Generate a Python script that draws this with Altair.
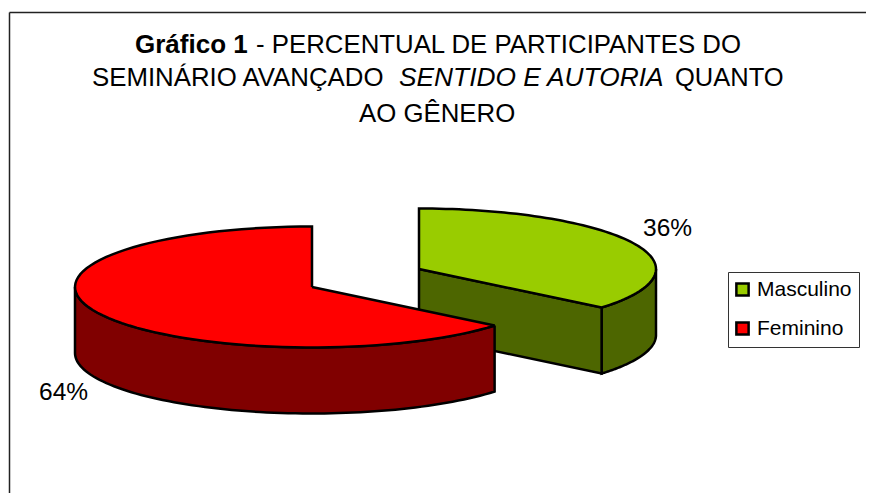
import math
import altair as alt
import pandas as pd

# ---- values ----
categories = ["Masculino", "Feminino"]
shares = [36, 64]
labels = ["36%", "64%"]
top_colors = ["#99CC00", "#FF0000"]
side_colors = ["#4D6600", "#800000"]
title_runs = [
    ("Gráfico 1", 135, 52.5, "bold", "normal", 26),
    ("- PERCENTUAL DE PARTICIPANTES DO", 256, 52.5, "normal", "normal", 25.8),
    ("SEMINÁRIO AVANÇADO", 92, 86, "normal", "normal", 25.8),
    ("SENTIDO E AUTORIA", 399, 86, "normal", "italic", 26.3),
    ("QUANTO", 675, 86, "normal", "normal", 25.5),
    ("AO GÊNERO", 359, 121.5, "normal", "normal", 25.8),
]

# pie geometry, in page pixels
FONT = "Liberation Sans"
RX, RY, DEPTH = 237, 60.5, 66
CENTERS = {"Masculino": (419, 269), "Feminino": (312, 287)}
split = shares[0] / sum(shares) * 360


def pt(cat, deg, drop=0):
    cx, cy = CENTERS[cat]
    a = math.radians(deg)
    return (cx + RX * math.sin(a), cy - RY * math.cos(a) + drop)


def arc(cat, a0, a1, drop=0, n=80):
    return [pt(cat, a0 + (a1 - a0) * i / n, drop) for i in range(n + 1)]


def frame(points):
    return pd.DataFrame(
        [{"x": x, "y": y, "i": i} for i, (x, y) in enumerate(points)]
    )


X = alt.X("x:Q", axis=None, scale=alt.Scale(domain=[8, 866], nice=False, zero=False))
Y = alt.Y("y:Q", axis=None, scale=alt.Scale(domain=[493, 8], nice=False, zero=False))
color_scale = alt.Scale(domain=categories, range=top_colors)
legend = alt.Legend(
    title=None,
    orient="none",
    legendX=720,
    legendY=264,
    direction="vertical",
    symbolType="square",
    symbolSize=150,
    symbolStrokeColor="black",
    symbolStrokeWidth=2.5,
    symbolOpacity=1,
    symbolOffset=-3,
    labelFont=FONT,
    labelFontSize=21,
    labelColor="black",
    labelOffset=4,
    padding=7,
    fillColor="white",
    strokeColor="#333333",
)


def poly(points, color):
    return (
        alt.Chart(frame(points))
        .mark_line(stroke="black", strokeWidth=2.5, fill=color, strokeJoin="miter")
        .encode(x=X, y=Y, order="i:Q")
    )


def top(cat, points):
    df = frame(points).assign(cat=cat)
    return (
        alt.Chart(df)
        .mark_line(stroke="black", strokeWidth=2.5, strokeJoin="miter")
        .encode(
            x=X,
            y=Y,
            order="i:Q",
            fill=alt.Fill("cat:N", scale=color_scale, legend=legend),
        )
    )


def run(text, x, y, weight, style, size=26):
    df = pd.DataFrame([{"x": x, "y": y, "t": text}])
    return (
        alt.Chart(df)
        .mark_text(
            font=FONT,
            fontSize=size,
            fontWeight=weight,
            fontStyle=style,
            align="left",
            baseline="alphabetic",
            color="black",
        )
        .encode(x=X, y=Y, text="t:N")
    )


m, f = categories
mc, fc = CENTERS[m], CENTERS[f]

layers = []
# outer frame
layers.append(
    alt.Chart(pd.DataFrame([{"x": 9.5, "y": 12.5}, {"x": 866, "y": 12.5}]))
    .mark_line(stroke="#222222", strokeWidth=1.5)
    .encode(x=X, y=Y)
)
layers.append(
    alt.Chart(pd.DataFrame([{"x": 9.5, "y": 12.5}, {"x": 9.5, "y": 493}]))
    .mark_line(stroke="#222222", strokeWidth=1.5)
    .encode(x=X, y=Y, order="y:Q")
)
# Masculino slice
layers.append(poly(arc(m, 90, split) + arc(m, split, 90, DEPTH) + [pt(m, 90)], side_colors[0]))
layers.append(
    poly(
        [mc, pt(m, split), pt(m, split, DEPTH), (mc[0], mc[1] + DEPTH), mc],
        side_colors[0],
    )
)
layers.append(top(m, [mc] + arc(m, 0, split) + [mc]))
# Feminino slice
layers.append(poly(arc(f, split, 270) + arc(f, 270, split, DEPTH) + [pt(f, split)], side_colors[1]))
layers.append(top(f, [fc] + arc(f, split, 360) + [fc]))
# data labels
layers.append(run(labels[0], 643, 236, "normal", "normal", 24.5))
layers.append(run(labels[1], 39, 400, "normal", "normal", 24.5))
# title
for r in title_runs:
    layers.append(run(*r))

chart = (
    alt.layer(*layers)
    .properties(
        width=858,
        height=485,
        padding=0,
        autosize=alt.AutoSizeParams(type="none", contains="content"),
        background="white",
    )
    .configure_view(stroke=None)
    .configure_legend(rowPadding=16)
)

chart.save("out.html", embed_options={"renderer": "svg", "actions": False})
